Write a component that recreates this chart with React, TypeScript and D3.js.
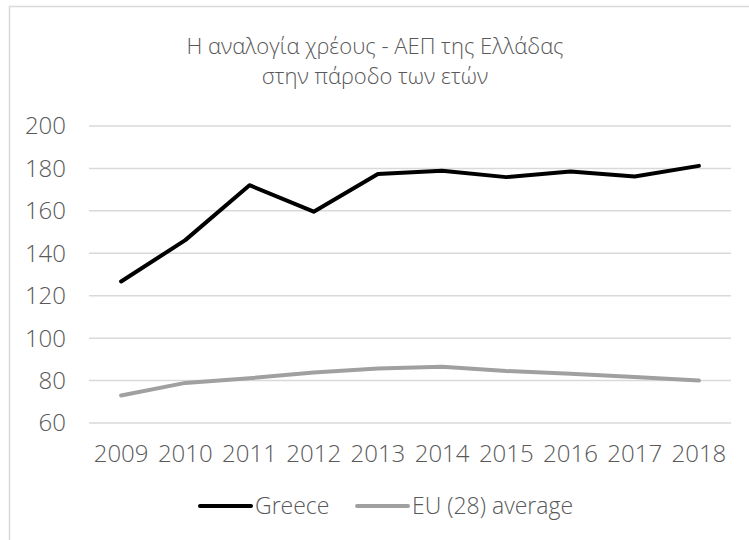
import React, { useEffect, useRef } from "react";
import * as d3 from "d3";

const years = ["2009", "2010", "2011", "2012", "2013", "2014", "2015", "2016", "2017", "2018"];
const greece = [126.7, 146.2, 172.1, 159.6, 177.4, 178.9, 175.9, 178.5, 176.2, 181.2];
const euAverage = [73.0, 78.9, 81.1, 83.8, 85.7, 86.5, 84.5, 83.2, 81.7, 80.0];
const yTicks = [60, 80, 100, 120, 140, 160, 180, 200];
const titleLines = ["Η αναλογία χρέους - ΑΕΠ της Ελλάδας", "στην πάροδο των ετών"];
const seriesNames = ["Greece", "EU (28) average"];
const seriesColors = ["#000000", "#a0a0a0"];

const W = 749;
const H = 540;
const FONT = "'Open Sans', 'Noto Sans', sans-serif";
const TEXT = "#595959";

export default function App() {
  const ref = useRef<SVGSVGElement>(null);

  useEffect(() => {
    const svg = d3.select(ref.current);
    svg.selectAll("*").remove();

    svg.append("rect").attr("width", W).attr("height", H).attr("fill", "#fff");
    svg.append("rect")
      .attr("x", 9.5).attr("y", 6.5).attr("width", W + 20).attr("height", H + 20)
      .attr("fill", "none").attr("stroke", "#d9d9d9").attr("stroke-width", 1.5);

    const x = d3.scaleBand<string>().domain(years).range([89, 731]);
    const y = d3.scaleLinear().domain([60, 200]).range([423, 126]);

    // title
    svg.append("g").selectAll("text").data(titleLines).join("text")
      .attr("x", 375).attr("y", (_, i) => 54 + i * 30)
      .attr("text-anchor", "middle")
      .attr("font-family", FONT).attr("font-size", 22).attr("font-weight", 300).attr("fill", TEXT)
      .text(d => d);

    // gridlines
    svg.append("g").selectAll("line").data(yTicks).join("line")
      .attr("x1", 89).attr("x2", 731)
      .attr("y1", d => y(d)).attr("y2", d => y(d))
      .attr("stroke", "#d9d9d9").attr("stroke-width", 1.5);

    // y labels
    svg.append("g").selectAll("text").data(yTicks).join("text")
      .attr("x", 66).attr("y", d => y(d))
      .attr("dy", "0.35em")
      .attr("text-anchor", "end")
      .attr("font-family", FONT).attr("font-size", 24).attr("font-weight", 300).attr("fill", TEXT)
      .text(d => String(d));

    // x labels
    svg.append("g").selectAll("text").data(years).join("text")
      .attr("x", d => (x(d) as number) + x.bandwidth() / 2).attr("y", 462)
      .attr("text-anchor", "middle")
      .attr("font-family", FONT).attr("font-size", 24).attr("font-weight", 300).attr("fill", TEXT)
      .text(d => d);

    const line = d3.line<number>()
      .x((_, i) => (x(years[i]) as number) + x.bandwidth() / 2)
      .y(d => y(d));

    [euAverage, greece].forEach((data, k) => {
      const idx = k === 0 ? 1 : 0;
      svg.append("path")
        .attr("d", line(data) as string)
        .attr("fill", "none")
        .attr("stroke", seriesColors[idx])
        .attr("stroke-width", 4)
        .attr("stroke-linejoin", "round")
        .attr("stroke-linecap", "round");
    });

    // legend
    const legendX = [200, 357];
    const lg = svg.append("g");
    seriesNames.forEach((name, i) => {
      lg.append("line")
        .attr("x1", legendX[i]).attr("x2", legendX[i] + 51)
        .attr("y1", 506).attr("y2", 506)
        .attr("stroke", seriesColors[i]).attr("stroke-width", 4)
        .attr("stroke-linecap", "round");
      lg.append("text")
        .attr("x", legendX[i] + 55).attr("y", 506).attr("dy", "0.35em")
        .attr("font-family", FONT).attr("font-size", 23).attr("font-weight", 300).attr("fill", TEXT)
        .text(name);
    });
  }, []);

  return (
    <svg
      ref={ref}
      width={W}
      height={H}
      style={{ position: "absolute", left: 0, top: 0, display: "block" }}
    />
  );
}
